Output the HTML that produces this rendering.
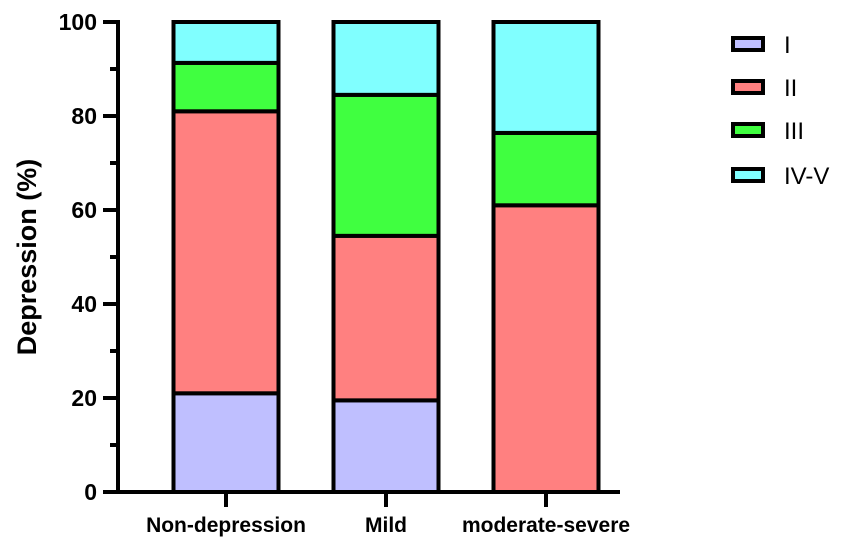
<!DOCTYPE html>
<html><head><meta charset="utf-8"><style>
body{margin:0;background:#fff;}
svg{display:block;font-family:"Liberation Sans",Arial,sans-serif;}
</style></head><body>
<svg id="chart" width="851" height="545" viewBox="0 0 851 545"></svg>
<script>
const categories = ["Non-depression", "Mild", "moderate-severe"];
const seriesNames = ["I", "II", "III", "IV-V"];
const seriesI = [21, 19.5, 0];
const seriesII = [60, 35, 61];
const seriesIII = [10.3, 30, 15.4];
const seriesIV = [8.7, 15.5, 23.6];
const yTicks = [0, 20, 40, 60, 80, 100];
const colors = ["#bfbfff", "#ff8080", "#40ff40", "#80ffff"];

const NS = "http://www.w3.org/2000/svg";
const svg = document.getElementById("chart");
const y0 = 492, y100 = 22;
const yScale = v => y0 - (v / 100) * (y0 - y100);
const xCenter = i => 226 + i * 160;
const barW = 105;
function mk(tag, attrs, parent) {
  const e = document.createElementNS(NS, tag);
  for (const k in attrs) e.setAttribute(k, attrs[k]);
  (parent || svg).appendChild(e);
  return e;
}
const series = [seriesI, seriesII, seriesIII, seriesIV];
categories.forEach((c, i) => {
  let acc = 0;
  series.forEach((s, j) => {
    const v = s[i];
    if (v > 0) {
      const r = mk("rect", {x: xCenter(i) - barW/2, y: yScale(acc + v), width: barW, height: yScale(acc) - yScale(acc + v), fill: colors[j], stroke: "#000", "stroke-width": 4});
      
      
    }
    acc += v;
  });
  const t = mk("line", {x1: xCenter(i), x2: xCenter(i), y1: y0, y2: y0 + 15, stroke: "#000", "stroke-width": 4});
  
  
  const l = mk("text", {x: xCenter(i), y: 532, "text-anchor": "middle", "font-size": 21, "font-weight": "bold"});
  l.textContent = c;
  
  
});
const ya = mk("line", {x1: 118, x2: 118, y1: y100 - 2, y2: y0 + 2, stroke: "#000", "stroke-width": 4});


const xa = mk("line", {x1: 116, x2: 620, y1: y0, y2: y0, stroke: "#000", "stroke-width": 4});


for (let v = 0; v <= 100; v += 10) {
  const major = v % 20 === 0;
  const tk = mk("line", {x1: major ? 103 : 110, x2: 118, y1: yScale(v), y2: yScale(v), stroke: "#000", "stroke-width": 4});
  
  
}
yTicks.forEach(v => {
  const t = mk("text", {x: 97, y: yScale(v) + 8, "text-anchor": "end", "font-size": 23, "font-weight": "bold"});
  t.textContent = v;
  
  
});
const yt = mk("text", {x: 0, y: 0, transform: "translate(36,257) rotate(-90)", "text-anchor": "middle", "font-size": 27, "font-weight": "bold"});
yt.textContent = "Depression (%)";


const legY = [44, 87, 130, 175];
seriesNames.forEach((n, j) => {
  const r = mk("rect", {x: 733, y: legY[j] - 6, width: 30, height: 12, fill: colors[j], stroke: "#000", "stroke-width": 4});
  
  
  const t = mk("text", {x: 784, y: legY[j] + 9, "font-size": 24});
  t.textContent = n;
  
  
});
</script>
</body></html>
